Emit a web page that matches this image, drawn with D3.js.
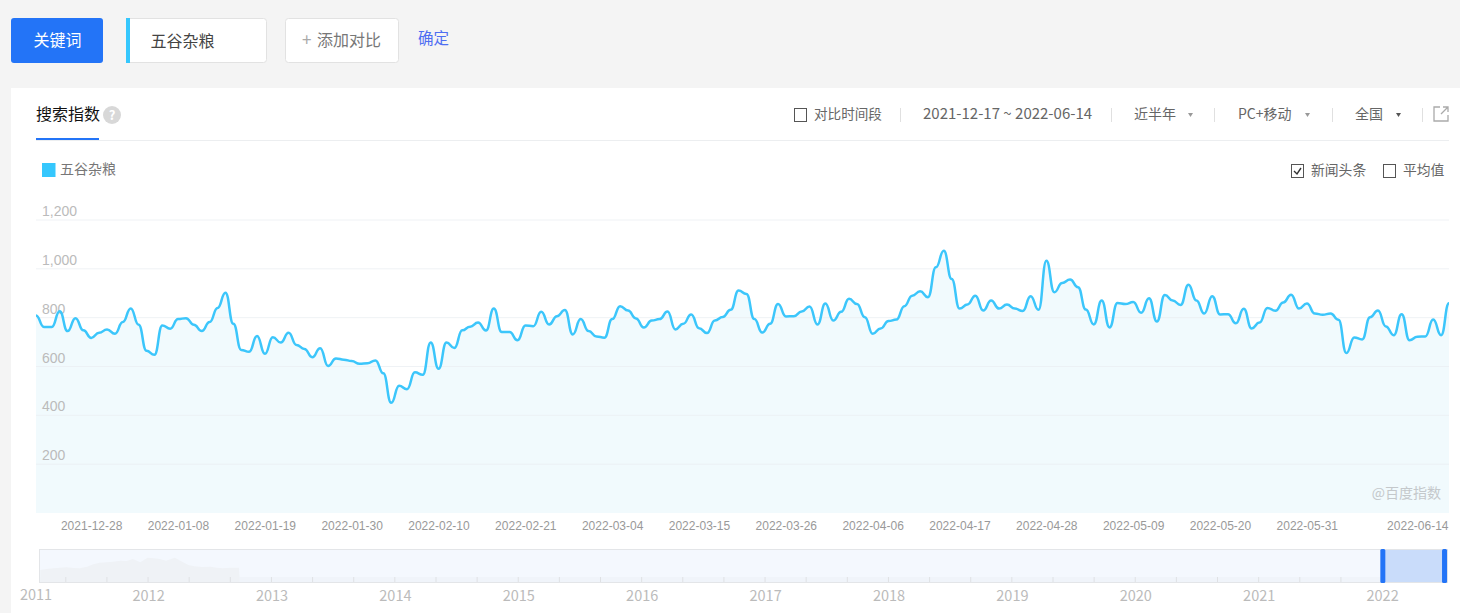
<!DOCTYPE html>
<html>
<head>
    <meta charset="utf-8">
    <script src="https://d3js.org/d3.v7.min.js"></script>
    <style>
        html, body { margin: 0; padding: 0; background: #f4f4f4; overflow: hidden; }
        svg { display: block; font-family: "Noto Sans CJK SC", "Noto Sans", sans-serif; }
        .date-axis text { font-family: "Liberation Sans", Arial, sans-serif; font-size: 12px; fill: #999; }
        .date-axis .domain { stroke: none; }
        .date-axis line { stroke: #fff; }
        .value-axis text { font-size: 14px; fill: #bbb; }
        .value-axis .domain { stroke: none; }
        .value-axis line { stroke: #e9eef2; stroke-opacity: .75; }
        .year-axis line { stroke: #dfe1e4; }
    </style>
</head>
<body>
<svg width="1460" height="613"></svg>
<script>
    const width = 1460, height = 613;

    // daily index, 2021-12-17 to 2022-06-14
    const startDate = "2021-12-17";
    const searchIndex = [
        807, 760, 760, 824, 743, 796, 746, 715, 736, 750,
        732, 780, 836, 769, 662, 646, 766, 753, 792, 796,
        769, 743, 780, 838, 900, 773, 666, 658, 723, 650,
        718, 696, 736, 686, 670, 636, 673, 600, 631, 626,
        620, 609, 611, 623, 570, 449, 519, 505, 574, 564,
        696, 589, 696, 674, 746, 761, 778, 745, 835, 739,
        739, 705, 766, 763, 822, 770, 804, 829, 729, 792,
        743, 721, 716, 792, 845, 827, 795, 758, 786, 792,
        823, 750, 773, 811, 755, 735, 786, 801, 830, 909,
        895, 792, 737, 773, 854, 803, 804, 823, 844, 770,
        856, 786, 822, 875, 854, 800, 732, 754, 784, 790,
        845, 888, 906, 882, 1004, 1072, 956, 835, 852, 888,
        827, 868, 835, 852, 835, 825, 886, 830, 1031, 902,
        940, 954, 923, 831, 770, 868, 758, 858, 854, 862,
        818, 877, 782, 891, 868, 850, 933, 868, 815, 886,
        811, 812, 775, 834, 754, 778, 838, 826, 860, 892,
        835, 856, 815, 810, 815, 789, 653, 717, 709, 800,
        827, 762, 726, 812, 705, 720, 721, 790, 726, 857
    ];
    const dateLabels = [
        "2021-12-28", "2022-01-08", "2022-01-19", "2022-01-30", "2022-02-10",
        "2022-02-21", "2022-03-04", "2022-03-15", "2022-03-26", "2022-04-06",
        "2022-04-17", "2022-04-28", "2022-05-09", "2022-05-20", "2022-05-31", "2022-06-14"
    ];
    const valueTicks = [200, 400, 600, 800, 1000, 1200];
    const yearLabels = [2012, 2013, 2014, 2015, 2016, 2017, 2018, 2019, 2020, 2021, 2022];
    const overviewYears = [
        2011.13, 2011.18, 2011.24, 2011.29, 2011.34, 2011.40, 2011.45, 2011.51, 2011.56, 2011.61,
        2011.67, 2011.72, 2011.78, 2011.83, 2011.88, 2011.94, 2012.00, 2012.05, 2012.10, 2012.15,
        2012.22, 2012.28, 2012.33, 2012.38, 2012.44, 2012.51, 2012.56, 2012.61, 2012.67, 2012.74, 2012.745
    ];
    const overviewValues = [
        12, 13, 13.7, 14.3, 14.7, 14, 13.7, 15.3, 17.7, 19.3,
        19.7, 20.3, 21.3, 21, 23, 19.7, 24.3, 23.7, 23, 21.3,
        24.3, 20.3, 17, 15.7, 15, 15.3, 14.3, 13.7, 14.3, 14.3, 5
    ];
    const brushRange = [2022.01, 2022.51];

    const svg = d3.select("svg");

    // page chrome
    svg.append("rect").attr("x", 11).attr("y", 88).attr("width", width - 11).attr("height", height - 88).attr("fill", "#fff");
    svg.append("rect").attr("x", 11).attr("y", 18).attr("width", 92).attr("height", 45).attr("rx", 3).attr("fill", "#2374f7");
    svg.append("text").attr("x", 57.5).attr("y", 46).attr("text-anchor", "middle").attr("font-size", 16).attr("fill", "#fff").text("关键词");

    svg.append("rect").attr("x", 126.5).attr("y", 18.5).attr("width", 140).attr("height", 44).attr("rx", 3).attr("fill", "#fff").attr("stroke", "#e2e2e2");
    svg.append("rect").attr("x", 126).attr("y", 18).attr("width", 4).attr("height", 45).attr("fill", "#35c7fd");
    svg.append("text").attr("x", 150.5).attr("y", 47).attr("font-size", 16).attr("fill", "#444").text("五谷杂粮");

    svg.append("rect").attr("x", 285.5).attr("y", 18.5).attr("width", 113).attr("height", 44).attr("rx", 3).attr("fill", "#fff").attr("stroke", "#e2e2e2");
    svg.append("text").attr("x", 302).attr("y", 46).attr("font-size", 17).attr("fill", "#aaa").text("+");
    svg.append("text").attr("x", 317).attr("y", 46).attr("font-size", 16).attr("fill", "#777").text("添加对比");
    svg.append("text").attr("x", 418).attr("y", 44).attr("font-size", 15.5).attr("fill", "#4e6ef2").text("确定");

    // tab row
    svg.append("text").attr("x", 36).attr("y", 120).attr("font-size", 16).attr("fill", "#111").text("搜索指数");
    svg.append("circle").attr("cx", 112).attr("cy", 115).attr("r", 9).attr("fill", "#d8d8d8");
    svg.append("text").attr("x", 112).attr("y", 120).attr("text-anchor", "middle").attr("font-size", 13).attr("font-weight", "bold").attr("fill", "#fff").text("?");
    svg.append("rect").attr("x", 36).attr("y", 140).attr("width", width - 36 - 11).attr("height", 1).attr("fill", "#eceef0");
    svg.append("rect").attr("x", 36).attr("y", 138).attr("width", 63).attr("height", 2).attr("fill", "#2374f7");

    // filter row
    const checkbox = (x, y, checked) => {
        svg.append("rect").attr("x", x + .5).attr("y", y + .5).attr("width", 12).attr("height", 13).attr("fill", "#fff").attr("stroke", "#555");
        if (checked) {
            svg.append("path").attr("d", `M${x + 3},${y + 7}l3,3l4,-6`).attr("fill", "none").attr("stroke", "#333").attr("stroke-width", 1.4);
        }
    };
    const filterText = (x, label, size) => svg.append("text").attr("x", x).attr("y", 119).attr("font-size", size || 14).attr("fill", "#666").text(label);
    const separator = x => svg.append("rect").attr("x", x).attr("y", 108).attr("width", 1).attr("height", 14).attr("fill", "#e0e0e0");
    const caret = (x, color) => svg.append("path").attr("d", `M${x},${113}h5l-2.5,4z`).attr("fill", color);

    checkbox(794, 108, false);
    filterText(814, "对比时间段", 13.6);
    separator(900);
    filterText(923, "2021-12-17 ~ 2022-06-14", 15);
    separator(1111);
    filterText(1134, "近半年");
    caret(1188, "#999");
    separator(1214);
    filterText(1238, "PC+移动");
    caret(1305, "#999");
    separator(1332);
    filterText(1355, "全国");
    caret(1396, "#555");
    separator(1422);
    svg.append("path").attr("d", "M1440,107h-6v14h14v-6M1441,114l7,-7M1443,107h5v5").attr("fill", "none").attr("stroke", "#aaa").attr("stroke-width", 1.3);

    // legend row
    svg.append("rect").attr("x", 42).attr("y", 163).attr("width", 13.5).attr("height", 14).attr("fill", "#35c7fd");
    svg.append("text").attr("x", 60).attr("y", 174).attr("font-size", 14).attr("fill", "#777").text("五谷杂粮");
    checkbox(1291, 164, true);
    svg.append("text").attr("x", 1311).attr("y", 175).attr("font-size", 13.8).attr("fill", "#666").text("新闻头条");
    checkbox(1383, 164, false);
    svg.append("text").attr("x", 1403).attr("y", 175).attr("font-size", 13.8).attr("fill", "#666").text("平均值");

    // main chart
    const parseDate = d3.timeParse("%Y-%m-%d");
    const formatDate = d3.timeFormat("%Y-%m-%d");
    const series = searchIndex.map((v, i) => ({ date: d3.timeDay.offset(parseDate(startDate), i), value: v }));

    const x = d3.scaleTime()
        .domain(d3.extent(series, d => d.date))
        .range([36, 1449]);
    const y = d3.scaleLinear()
        .domain([0, 1200])
        .range([512.5, 219.5]);

    svg.append("path")
        .datum(series)
        .attr("fill", "#f1fafd")
        .attr("d", d3.area().x(d => x(d.date)).y0(513).y1(d => y(d.value)).curve(d3.curveBumpX));

    const valueAxis = svg.append("g")
        .attr("class", "value-axis")
        .attr("transform", "translate(36,0)")
        .call(d3.axisRight(y).tickValues(valueTicks).tickSize(1413).tickFormat(d3.format(",")));
    valueAxis.selectAll("text").attr("x", 6).attr("dy", -4);

    svg.append("path")
        .datum(series)
        .attr("fill", "none")
        .attr("stroke", "#3cc6fb")
        .attr("stroke-width", 2.5)
        .attr("d", d3.line().x(d => x(d.date)).y(d => y(d.value)).curve(d3.curveBumpX));

    const dateAxis = svg.append("g")
        .attr("class", "date-axis")
        .attr("transform", "translate(0,513)")
        .call(d3.axisBottom(x).tickValues(dateLabels.map(parseDate)).tickSize(1).tickFormat(formatDate));
    dateAxis.selectAll("text").attr("text-anchor", "end").attr("x", -1).attr("y", 17).attr("dy", 0);

    svg.append("text").attr("x", 1441).attr("y", 498).attr("text-anchor", "end").attr("font-size", 14).attr("fill", "#c4c8cb").text("@百度指数");

    // overview strip
    const overview = d3.scaleLinear().domain([2011.12, 2022.53]).range([39, 1447]);
    const overviewY = d3.scaleLinear().domain([0, 32]).range([582, 550]);

    svg.append("rect").attr("x", 39.5).attr("y", 549.5).attr("width", 1408).attr("height", 33).attr("fill", "#f4f8fe").attr("stroke", "#e3e5e8");
    svg.append("rect").attr("x", 40).attr("y", 577).attr("width", 1407).attr("height", 5).attr("fill", "#f0f4fa");
    svg.append("path")
        .datum(overviewYears.map((d, i) => [d, overviewValues[i]]))
        .attr("fill", "#eff2f6")
        .attr("d", d3.area().x(d => overview(d[0])).y0(582).y1(d => overviewY(d[1])));

    const yearAxis = svg.append("g")
        .attr("class", "year-axis")
        .attr("transform", "translate(0,582)")
        .call(d3.axisBottom(overview)
            .tickValues(d3.range(2011.333, 2022.6, 1 / 3))
            .tickSize(-5)
            .tickFormat(""));
    yearAxis.select(".domain").remove();

    svg.selectAll(".year-label")
        .data(yearLabels)
        .enter().append("text")
        .attr("class", "year-label")
        .attr("x", d => overview(d) + 1)
        .attr("y", 601)
        .attr("text-anchor", "middle")
        .attr("font-size", 14.5)
        .attr("fill", "#bbb")
        .text(d => d);
    svg.append("text").attr("x", 36).attr("y", 600).attr("text-anchor", "middle").attr("font-size", 14.5).attr("fill", "#bbb").text("2011");

    svg.append("rect")
        .attr("x", overview(brushRange[0]))
        .attr("y", 550)
        .attr("width", overview(brushRange[1]) - overview(brushRange[0]))
        .attr("height", 32)
        .attr("fill", "#c9dcfa");
    brushRange.forEach(d => {
        svg.append("rect")
            .attr("x", overview(d) - 2.5)
            .attr("y", 549)
            .attr("width", 5)
            .attr("height", 34)
            .attr("rx", 1.5)
            .attr("fill", "#2374f7");
    });
</script>
</body>
</html>
